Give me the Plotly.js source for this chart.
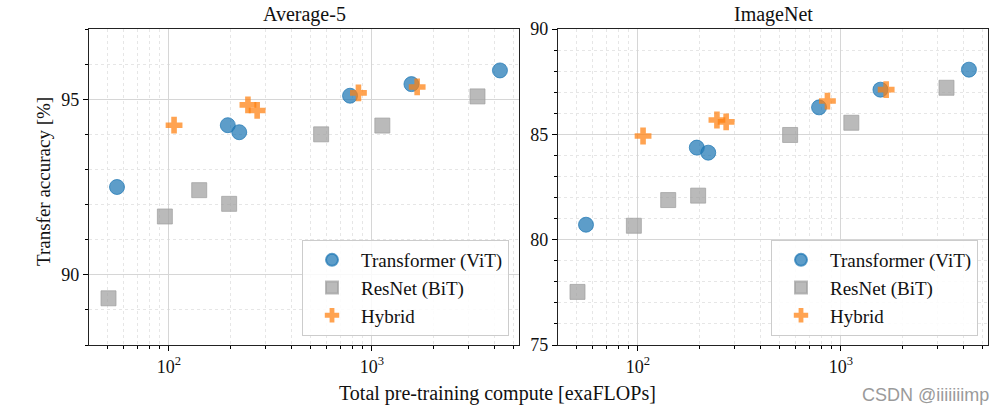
<!DOCTYPE html>
<html><head><meta charset="utf-8">
<script src="https://cdn.plot.ly/plotly-3.0.1.min.js"></script>
<style>html,body{margin:0;padding:0;background:#fff}#chart{width:1006px;height:417px}</style>
</head><body><div id="chart"></div>
<script>
// ---- data ----
const vitCompute = [55.5, 195, 222, 780, 1565, 4270];
const vitAvg5 = [92.5, 94.26, 94.06, 95.1, 95.43, 95.82];
const vitImageNet = [80.71, 84.37, 84.13, 86.28, 87.12, 88.07];

const bitCompute = [50.4, 95.5, 141, 198, 562, 1125, 3310];
const bitAvg5 = [89.33, 91.66, 92.41, 92.02, 94.0, 94.25, 95.08];
const bitImageNet = [77.52, 80.66, 81.88, 82.09, 84.97, 85.55, 87.21];

const hybCompute = [106, 245, 272, 858, 1670];
const hybAvg5 = [94.26, 94.84, 94.68, 95.18, 95.35];
const hybImageNet = [84.92, 85.68, 85.59, 86.58, 87.12];

const seriesNames = ['Transformer (ViT)', 'ResNet (BiT)', 'Hybrid'];
const panelTitles = ['Average-5', 'ImageNet'];
const xTickVals = [100, 1000];
const xTickText = ['10<sup>2</sup>', '10<sup>3</sup>'];

const serif = 'Liberation Serif, DejaVu Serif, serif';
const minorX = [];
[10, 100, 1000].forEach(d => { for (let k = 2; k <= 9; k++) minorX.push(k * d); });

function mk(x, y, name, i, xa, ya, lg) {
  const styles = [
    {symbol: 'circle', color: 'rgba(31,119,180,0.72)', size: 15, line: {color: 'rgba(31,119,180,0.72)', width: 1}},
    {symbol: 'square', color: 'rgba(160,160,160,0.72)', size: 15, line: {color: 'rgba(160,160,160,0.72)', width: 1}},
    {symbol: 'cross', color: 'rgba(255,127,14,0.72)', size: 14, line: {color: 'rgba(255,127,14,0.0)', width: 0}}
  ];
  return {x: x, y: y, name: name, type: 'scatter', mode: 'markers', xaxis: xa, yaxis: ya,
    legend: lg, marker: styles[i], hoverinfo: 'skip'};
}

const traces = [
  mk(vitCompute, vitAvg5, seriesNames[0], 0, 'x', 'y', 'legend'),
  mk(bitCompute, bitAvg5, seriesNames[1], 1, 'x', 'y', 'legend'),
  mk(hybCompute, hybAvg5, seriesNames[2], 2, 'x', 'y', 'legend'),
  mk(vitCompute, vitImageNet, seriesNames[0], 0, 'x2', 'y2', 'legend2'),
  mk(bitCompute, bitImageNet, seriesNames[1], 1, 'x2', 'y2', 'legend2'),
  mk(hybCompute, hybImageNet, seriesNames[2], 2, 'x2', 'y2', 'legend2')
];

function xax(domain, anchor) {
  return {type: 'log', domain: domain, anchor: anchor, range: [Math.log10(40.4), Math.log10(5300)],
    tickmode: 'array', tickvals: xTickVals, ticktext: xTickText,
    ticks: 'outside', ticklen: 5, tickcolor: '#000', tickwidth: 1,
    showline: true, linecolor: '#222', linewidth: 1.2, mirror: true,
    showgrid: true, gridcolor: '#d6d6d6', gridwidth: 1,
    minor: {tickmode: 'array', tickvals: minorX, ticks: 'outside', ticklen: 3, tickcolor: '#000',
      showgrid: true, gridcolor: '#e6e6e6', griddash: 'dot', gridwidth: 1},
    tickfont: {family: serif, size: 18, color: '#111'}, zeroline: false};
}
function yax(domain, anchor, range, major) {
  const minorV = [];
  for (let v = Math.ceil(range[0]); v <= range[1]; v++) if (!major.includes(v)) minorV.push(v);
  return {domain: domain, anchor: anchor, range: range, tickmode: 'array', tickvals: major,
    ticks: 'outside', ticklen: 5, tickcolor: '#000',
    showline: true, linecolor: '#222', linewidth: 1.2, mirror: true,
    showgrid: true, gridcolor: '#d6d6d6', gridwidth: 1,
    minor: {tickmode: 'array', tickvals: minorV, ticks: 'outside', ticklen: 3, tickcolor: '#000',
      showgrid: true, gridcolor: '#e6e6e6', griddash: 'dot', gridwidth: 1},
    tickfont: {family: serif, size: 18, color: '#111'}, zeroline: false};
}
const yDom = [72/417, 388/417];
const legendStyle = (x) => ({x: x, y: 81/417, xanchor: 'right', yanchor: 'bottom', xref: 'paper', yref: 'paper',
  bgcolor: 'rgba(255,255,255,0.85)', bordercolor: '#cccccc', borderwidth: 1,
  font: {family: serif, size: 19, color: '#111'}, itemsizing: 'constant', itemwidth: 48, tracegroupgap: 0});

function ann(text, x, y, size, extra) {
  return Object.assign({text: text, x: x / 1006, y: 1 - y / 417, xref: 'paper', yref: 'paper', showarrow: false,
    xanchor: 'center', yanchor: 'middle', font: {family: serif, size: size, color: '#111'}}, extra || {});
}

const layout = {
  width: 1006, height: 417, margin: {l: 0, r: 0, t: 0, b: 0},
  paper_bgcolor: '#fff', plot_bgcolor: '#fff', showlegend: true,
  xaxis: xax([89/1006, 519/1006], 'y'),
  yaxis: yax(yDom, 'x', [88, 97], [90, 95]),
  xaxis2: xax([558/1006, 988/1006], 'y2'),
  yaxis2: yax(yDom, 'x2', [75, 90], [75, 80, 85, 90]),
  legend: legendStyle(509/1006),
  legend2: legendStyle(978/1006),
  annotations: [
    ann(panelTitles[0], 304, 14, 20),
    ann(panelTitles[1], 773, 14, 20),
    ann('Transfer accuracy [%]', 44, 182, 19, {textangle: -90}),
    ann('Total pre-training compute [exaFLOPs]', 497, 393, 20),
    ann('CSDN @iiiiiiimp', 991, 395, 18, {xanchor: 'right', font: {family: 'Liberation Sans, Arial, sans-serif', size: 18, color: '#9a9a9a'}})
  ]
};
Plotly.newPlot('chart', traces, layout, {staticPlot: true, displayModeBar: false});
</script></body></html>
